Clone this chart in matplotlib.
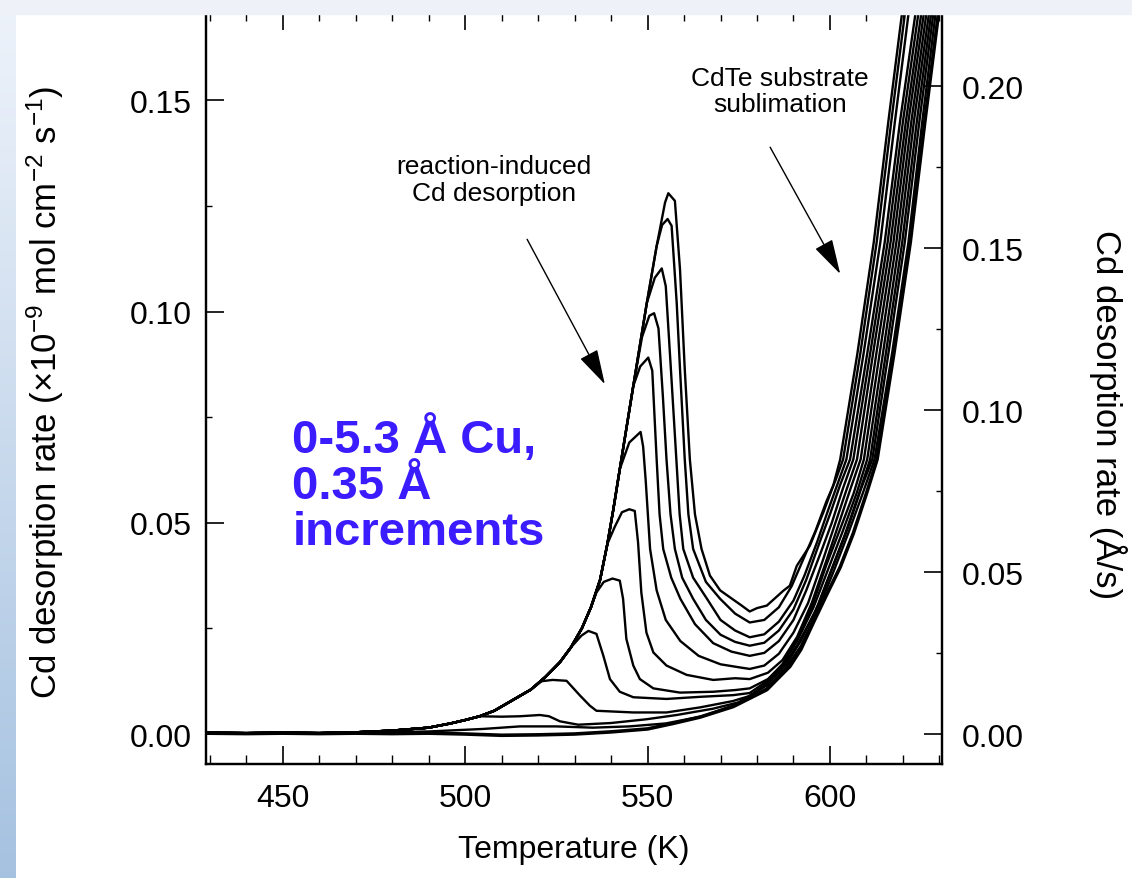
import matplotlib
matplotlib.use('Agg')
import matplotlib.pyplot as plt
from matplotlib.patches import Rectangle
from matplotlib.ticker import MultipleLocator, FormatStrFormatter
import numpy as np

plt.rcParams['font.family'] = ['Liberation Sans', 'DejaVu Sans']
plt.rcParams['mathtext.fontset'] = 'custom'
plt.rcParams['mathtext.rm'] = 'Liberation Sans'
plt.rcParams['mathtext.it'] = 'Liberation Sans:italic'

# shared leading edge of the reaction peaks (K, 1e-9 mol cm-2 s-1)
edge_T = [429, 440, 450, 460, 470, 480, 490, 496, 500, 504, 508, 513, 518, 522, 526,
          529, 532, 534.5, 537, 539, 540.6, 542.4, 546.1, 549.8, 552.5, 554.8]
edge_rate = [0.0003, 0.0002, 0.0003, 0.0002, 0.0004, 0.0008, 0.0015, 0.0025, 0.0033,
             0.0042, 0.0055, 0.0080, 0.0105, 0.0135, 0.0170, 0.0205, 0.0250, 0.0300,
             0.0365, 0.0450, 0.0530, 0.0627, 0.0824, 0.1020, 0.1155, 0.1258]

# each Cu coverage: point where it leaves the edge, then its own trace
leave_1 = 554.8
T_1 = [555.7, 557.5, 558.9, 560.2, 561.6, 563, 564.8, 567.1, 569.9, 573.5, 575.8, 578, 580,
       582.7, 587.2, 589, 590.9, 594.5, 598.2, 600.9, 602.8, 607.5, 612, 616, 619.8, 621]
rate_1 = [0.1280, 0.1262, 0.1100, 0.0864, 0.0650, 0.0520, 0.0438, 0.0375, 0.0340, 0.0318,
          0.0304, 0.0290, 0.0298, 0.0304, 0.0339, 0.0351, 0.0398, 0.0446, 0.0525, 0.0588,
          0.0650, 0.0900, 0.1164, 0.1450, 0.1710, 0.1800]

leave_2 = 552.5
T_2 = [554, 555.5, 556.6, 558, 558.9, 560.2, 561.2, 562.5, 566, 569.9, 574, 578, 582, 586,
       589.5, 592.5, 596, 599, 601.5, 603.6, 608.3, 612.8, 616.8, 620.6, 621.8]
rate_2 = [0.1205, 0.1219, 0.1203, 0.1020, 0.0864, 0.0650, 0.0520, 0.0438, 0.0360, 0.0320,
          0.0285, 0.0264, 0.0270, 0.0300, 0.0350, 0.0410, 0.0480, 0.0550, 0.0600, 0.0650,
          0.0900, 0.1164, 0.1450, 0.1710, 0.1800]

leave_3 = 549.8
T_3 = [552, 553.9, 555, 556.5, 557.9, 558.8, 559.8, 562.5, 566.3, 570, 574, 578, 582, 586,
       590, 593, 596.5, 599.5, 602, 604.5, 609.2, 613.8, 617.8, 621.6, 622.8]
rate_3 = [0.1080, 0.1102, 0.1060, 0.0850, 0.0650, 0.0520, 0.0438, 0.0370, 0.0320, 0.0270,
          0.0245, 0.0229, 0.0236, 0.0266, 0.0316, 0.0375, 0.0455, 0.0530, 0.0590, 0.0650,
          0.0900, 0.1164, 0.1450, 0.1710, 0.1800]

leave_4 = 546.1
T_4 = [548.5, 550.5, 551.8, 553, 554.2, 555.2, 556.3, 557.5, 559.5, 562.5, 566, 570, 574,
       578, 582, 586, 590, 593.5, 597, 600, 602.8, 605.5, 610.2, 615, 619.2, 623.5, 624.7]
rate_4 = [0.0940, 0.0990, 0.0996, 0.0960, 0.0800, 0.0650, 0.0520, 0.0438, 0.0370, 0.0320,
          0.0270, 0.0235, 0.0218, 0.0209, 0.0216, 0.0245, 0.0295, 0.0365, 0.0450, 0.0520,
          0.0590, 0.0650, 0.0900, 0.1164, 0.1450, 0.1710, 0.1800]

leave_5 = 546.1
T_5 = [548, 550.2, 551.3, 552.5, 553.3, 554.3, 556.5, 559, 563, 568, 573, 578, 582, 586,
       590, 593.5, 597.5, 600.5, 603.5, 606.4, 611, 615.8, 620, 624.3, 625.5]
rate_5 = [0.0870, 0.0891, 0.0860, 0.0650, 0.0520, 0.0438, 0.0370, 0.0320, 0.0260, 0.0215,
          0.0195, 0.0185, 0.0192, 0.0220, 0.0270, 0.0340, 0.0430, 0.0500, 0.0580, 0.0650,
          0.0900, 0.1164, 0.1450, 0.1710, 0.1800]

leave_6 = 542.4
T_6 = [545, 548.1, 548.8, 549.5, 550.7, 552.5, 555, 559, 564, 570, 575, 578, 582, 586, 590,
       594, 598, 601.5, 604.6, 607.4, 611.8, 616.6, 620.8, 625.1, 626.3]
rate_6 = [0.0690, 0.0715, 0.0680, 0.0600, 0.0438, 0.0340, 0.0270, 0.0220, 0.0185, 0.0165,
          0.0158, 0.0154, 0.0162, 0.0190, 0.0240, 0.0310, 0.0410, 0.0500, 0.0580, 0.0650,
          0.0900, 0.1164, 0.1450, 0.1710, 0.1800]

leave_7 = 539
T_7 = [541, 543, 545, 546.5, 547.4, 548.3, 549.7, 551.6, 555.2, 560.7, 568, 574, 578, 583,
       587, 591, 595, 599, 602.5, 605.6, 608.4, 612.7, 617.4, 621.5, 625.8, 627]
rate_7 = [0.0490, 0.0525, 0.0532, 0.0528, 0.0454, 0.0335, 0.0240, 0.0193, 0.0162, 0.0140,
          0.0128, 0.0132, 0.0130, 0.0145, 0.0175, 0.0230, 0.0310, 0.0410, 0.0500, 0.0580,
          0.0650, 0.0900, 0.1164, 0.1450, 0.1710, 0.1800]

leave_8 = 534.5
T_8 = [536, 538, 540.4, 542.4, 543.3, 544.2, 546.1, 547.9, 551.6, 558.9, 568, 574, 578, 583,
       587, 591, 595, 599, 603, 606.5, 609.3, 613.6, 618.2, 622.3, 626.5, 627.7]
rate_8 = [0.0335, 0.0360, 0.0368, 0.0363, 0.0320, 0.0225, 0.0162, 0.0130, 0.0108, 0.0098,
          0.0100, 0.0104, 0.0108, 0.0130, 0.0165, 0.0225, 0.0300, 0.0400, 0.0490, 0.0570,
          0.0650, 0.0900, 0.1164, 0.1450, 0.1710, 0.1800]

leave_9 = 529
T_9 = [531.9, 533.8, 536, 537.9, 539.7, 542.4, 546.1, 555.2, 564.4, 573.5, 578, 582.7, 587,
       591, 595.5, 599.5, 603.5, 607.3, 610.2, 614.5, 619, 623, 627.2, 628.4]
rate_9 = [0.0233, 0.0244, 0.0237, 0.0185, 0.0130, 0.0100, 0.0087, 0.0083, 0.0088, 0.0092,
          0.0097, 0.0125, 0.0165, 0.0220, 0.0300, 0.0390, 0.0480, 0.0570, 0.0650, 0.0900,
          0.1164, 0.1450, 0.1710, 0.1800]

leave_10 = 518
T_10 = [521, 524, 527.8, 529.5, 531.5, 534.2, 536, 546.1, 555.2, 564.4, 573.4, 578, 582.7,
        587, 591, 596, 600, 604, 608, 611, 615.3, 619.8, 623.8, 627.8, 629]
rate_10 = [0.0125, 0.0128, 0.0126, 0.0110, 0.0091, 0.0067, 0.0055, 0.0051, 0.0051, 0.0063,
           0.0078, 0.0090, 0.0120, 0.0160, 0.0210, 0.0290, 0.0380, 0.0470, 0.0570, 0.0650,
           0.0900, 0.1164, 0.1450, 0.1710, 0.1800]

leave_11 = 504
T_11 = [510, 515, 520.5, 523, 526, 531, 540, 549.8, 558, 568, 575, 582.7, 588, 592, 597,
        601, 605, 608.5, 611.6, 616, 620.5, 624.5, 628.4, 629.6]
rate_11 = [0.0041, 0.0042, 0.0045, 0.0042, 0.0030, 0.0022, 0.0026, 0.0035, 0.0045, 0.0060,
           0.0075, 0.0115, 0.0165, 0.0220, 0.0310, 0.0400, 0.0490, 0.0580, 0.0650, 0.0900,
           0.1164, 0.1450, 0.1710, 0.1800]

# lowest coverages, no reaction peak
T_12 = [429, 450, 470, 490, 505, 515, 525, 535, 545, 555, 565, 573, 582.7, 588, 592, 597,
        601, 605, 609, 612.2, 617, 621.5, 625.3, 629, 630.2]
rate_12 = [0.0002, 0.0002, 0.0003, 0.0006, 0.0012, 0.0018, 0.0018, 0.0015, 0.0018, 0.0025,
           0.0042, 0.0066, 0.0108, 0.0158, 0.0208, 0.0300, 0.0385, 0.0475, 0.0570, 0.0650,
           0.0900, 0.1164, 0.1450, 0.1710, 0.1800]

T_0 = [429, 440, 450, 460, 470, 480, 490, 500, 510, 520, 530, 540, 550, 557, 564.4, 573.5,
       582.7, 589, 592, 595.5, 599.1, 602.8, 606.4, 610.1, 612.9, 617.5, 622, 626, 629.8, 631]
rate_0 = [0.0002, 0.0001, 0.0002, 0.0001, 0.0002, 0.0001, 0.0002, 0.0000, -0.0003, -0.0002,
          0.0000, 0.0005, 0.0012, 0.0025, 0.0040, 0.0065, 0.0105, 0.0160, 0.0200, 0.0265,
          0.0330, 0.0395, 0.0475, 0.0572, 0.0650, 0.0900, 0.1164, 0.1450, 0.1710, 0.1800]

peaked = [(leave_1, T_1, rate_1), (leave_2, T_2, rate_2), (leave_3, T_3, rate_3),
          (leave_4, T_4, rate_4), (leave_5, T_5, rate_5), (leave_6, T_6, rate_6),
          (leave_7, T_7, rate_7), (leave_8, T_8, rate_8), (leave_9, T_9, rate_9),
          (leave_10, T_10, rate_10), (leave_11, T_11, rate_11)]

xticks = [450, 500, 550, 600]
yticks_left = [0.00, 0.05, 0.10, 0.15]
yticks_right = [0.00, 0.05, 0.10, 0.15, 0.20]
right_per_left = 1.304   # A/s per 1e-9 mol cm-2 s-1

W, H = 1132, 879
fig = plt.figure(figsize=(W / 100, H / 100), dpi=100)
fig.patch.set_facecolor('white')

# slide decoration: pale top band and blue gradient stripe on the left
fig.patches.append(Rectangle((0, 1 - 15 / H), 1, 15 / H, transform=fig.transFigure,
                             color='#eef2f8', zorder=0))
stripe = fig.add_axes([0, 0, 16 / W, 1 - 15 / H])
grad = np.linspace(0, 1, 256).reshape(-1, 1)
top_c = np.array([0.93, 0.95, 0.98])
bot_c = np.array([0.65, 0.76, 0.88])
stripe.imshow(top_c + grad[:, :, None] * (bot_c - top_c), aspect='auto')
stripe.axis('off')

ax = fig.add_axes([206 / W, 1 - 765 / H, (942 - 206) / W, (765 - 13) / H])
ax.set_xlim(429, 630.7)
ax.set_ylim(-0.0071, 0.1709)

edge_T_arr = np.array(edge_T)
edge_rate_arr = np.array(edge_rate)
for leave, T, rate in peaked:
    keep = edge_T_arr <= leave
    ax.plot(list(edge_T_arr[keep]) + T, list(edge_rate_arr[keep]) + rate,
            color='black', lw=1.7, solid_joinstyle='round')
ax.plot(T_12, rate_12, color='black', lw=1.7)
ax.plot(T_0, rate_0, color='black', lw=2.6)

for s in ax.spines.values():
    s.set_linewidth(1.6)

ax.set_xticks(xticks)
ax.xaxis.set_minor_locator(MultipleLocator(10))
ax.set_yticks(yticks_left)
ax.yaxis.set_major_formatter(FormatStrFormatter('%.2f'))
ax.yaxis.set_minor_locator(MultipleLocator(0.025))
ax.tick_params(axis='x', which='major', direction='in', length=13, width=1.2,
               top=True, labelsize=23, pad=14)
ax.tick_params(axis='x', which='minor', direction='in', length=6.5, width=1.0, top=True)
ax.tick_params(axis='y', which='major', direction='in', length=13, width=1.2,
               labelsize=23, pad=10)
ax.tick_params(axis='y', which='minor', direction='in', length=4, width=1.0)

ax2 = ax.twinx()
ax2.set_ylim(-0.0071 * right_per_left, 0.1709 * right_per_left)
ax2.set_yticks(yticks_right)
ax2.yaxis.set_major_formatter(FormatStrFormatter('%.2f'))
ax2.yaxis.set_minor_locator(MultipleLocator(0.025))
ax2.tick_params(axis='y', which='major', direction='in', length=13, width=1.2,
                labelsize=23, pad=14)
ax2.tick_params(axis='y', which='minor', direction='in', length=4, width=1.0)
for s in ax2.spines.values():
    s.set_linewidth(1.6)

ax.xaxis.set_label_coords(0.5, -0.093)
ax.set_xlabel('Temperature (K)', fontsize=23)
fig.text(45 / W, 1 - 392 / H,
         'Cd desorption rate (×10$^{-9}$ mol cm$^{-2}$ s$^{-1}$)',
         rotation=90, ha='center', va='center', fontsize=25)
fig.text(1108 / W, 1 - 415 / H, 'Cd desorption rate (Å/s)',
         rotation=270, ha='center', va='center', fontsize=25)

arrow = dict(arrowstyle='-|>,head_length=1.0,head_width=0.28', color='black', lw=1.0,
             shrinkA=0, shrinkB=0, mutation_scale=22)
ax.annotate('', xy=(538.3, 0.0828), xytext=(517, 0.1171), arrowprops=arrow)
ax.text(508, 0.1313, 'reaction-induced\nCd desorption', ha='center', va='center',
        fontsize=19, linespacing=1.15)
ax.annotate('', xy=(602.8, 0.1089), xytext=(583.6, 0.1389), arrowprops=arrow)
ax.text(586.3, 0.1522, 'CdTe substrate\nsublimation', ha='center', va='center',
        fontsize=19, linespacing=1.15)

ax.text(452.7, 0.0757, '0-5.3 Å Cu,\n0.35 Å\nincrements', ha='left', va='top',
        fontsize=34, fontweight='bold', color='#3B1CFF', linespacing=1.05)

fig.savefig('out.png', dpi=100)
